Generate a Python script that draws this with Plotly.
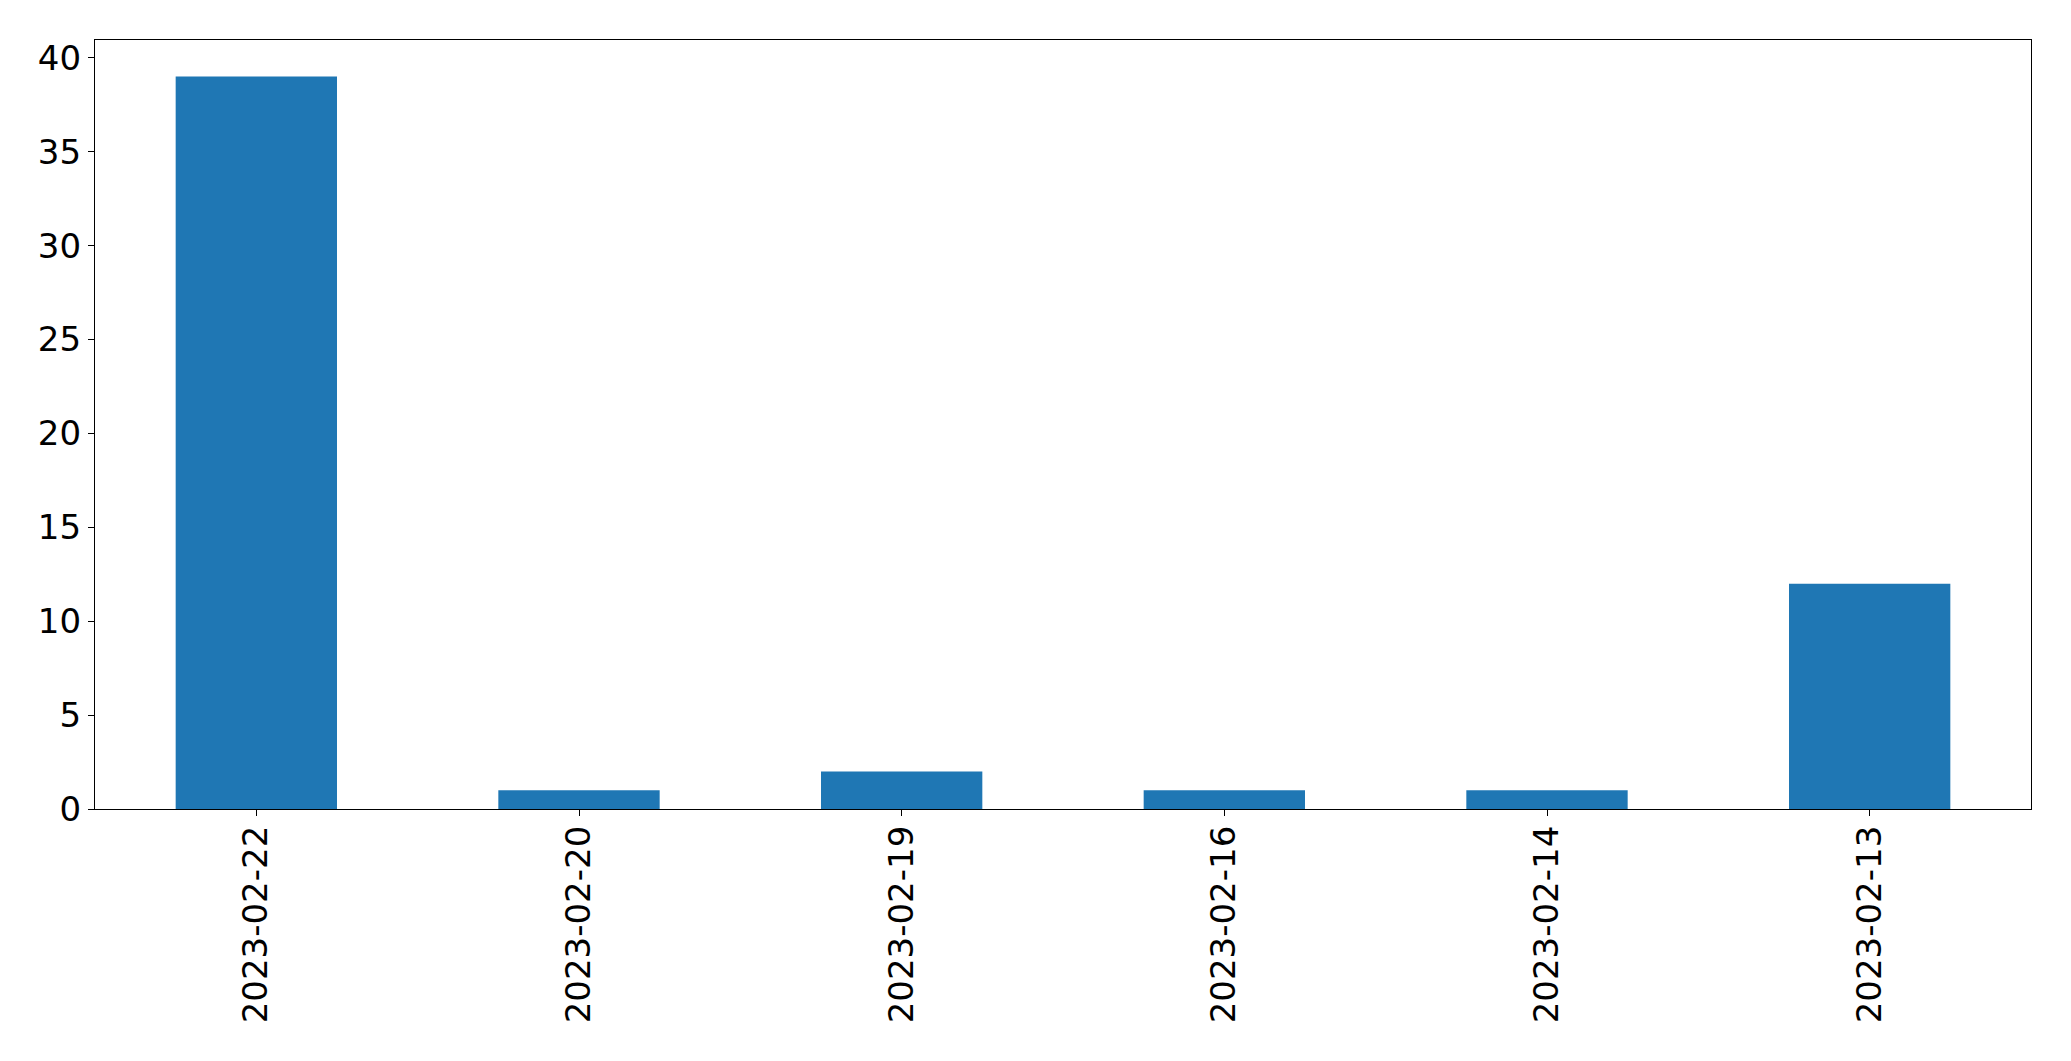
import plotly.graph_objects as go

dates = ["2023-02-22", "2023-02-20", "2023-02-19", "2023-02-16", "2023-02-14", "2023-02-13"]
counts = [39, 1, 2, 1, 1, 12]
y_ticks = [0, 5, 10, 15, 20, 25, 30, 35, 40]

fig = go.Figure(go.Bar(x=dates, y=counts, marker_color="#1f77b4", marker_line_width=0, width=0.5))

fig.update_layout(
    width=2063, height=1053,
    margin=dict(l=86.5, r=39.5, t=31.5, b=252),
    plot_bgcolor="white", paper_bgcolor="white",
    font=dict(family="DejaVu Sans", size=34, color="black"),
    showlegend=False,
)
fig.update_xaxes(
    type="category", range=[-0.5, 5.5], tickangle=-90,
    showline=True, linecolor="black", linewidth=1.3, mirror=True,
    ticks="outside", ticklen=6, tickwidth=1.3, tickcolor="black",
    ticklabelstandoff=-4,
    showgrid=False, zeroline=False,
)
fig.update_yaxes(
    range=[0, 40.95], tickvals=y_ticks,
    showline=True, linecolor="black", linewidth=1.3, mirror=True,
    ticks="outside", ticklen=6, tickwidth=1.3, tickcolor="black",
    showgrid=False, zeroline=False,
)
fig.write_html("out.html")
